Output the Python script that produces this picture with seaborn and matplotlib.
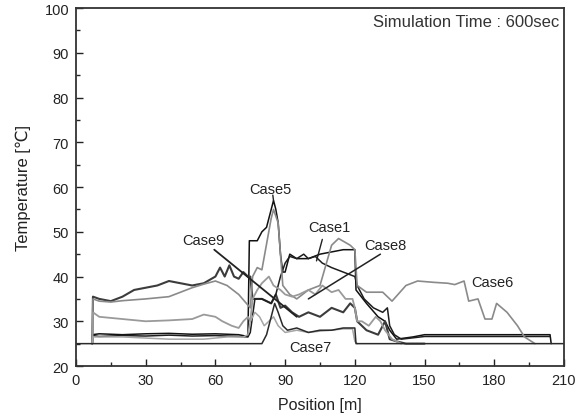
import numpy as np
import pandas as pd
import matplotlib
matplotlib.use("Agg")
import matplotlib.pyplot as plt
import seaborn as sns
from matplotlib.ticker import MultipleLocator

# ---------------- data ----------------
case5_x = [7, 7, 10, 20, 30, 40, 50, 60, 70, 74, 74.6, 78, 80, 82, 84, 85, 86, 87, 88, 89, 90, 92, 95, 100,
           105, 110, 115, 120, 120.5, 125, 130, 133, 135, 138, 145, 150, 160, 180, 200, 204, 204.5]
case5_y = [25, 27, 27.2, 27, 27.2, 27.3, 27.1, 27.2, 27, 26.6, 48, 48, 50, 51, 55, 57, 55, 52, 45, 41, 41,
           45, 44, 44, 45, 45.5, 46, 46, 37, 34, 31, 30, 28, 26, 26.5, 27, 27, 27, 27, 27, 25]

case9_x = [7, 7.3, 10, 15, 20, 25, 30, 35, 40, 45, 50, 55, 60, 62, 64, 66, 68, 70, 72, 74, 75, 76, 80, 84,
           86, 88, 90, 93, 96, 100, 105, 110, 115, 118, 120, 121, 125, 130, 133, 135, 138, 142, 150]
case9_y = [25, 35.5, 35, 34.5, 35.5, 37, 37.5, 38, 39, 38.5, 38, 38.5, 40, 42, 40, 42.5, 40, 39.5, 41, 40,
           40, 35, 35, 34, 36, 33, 33.5, 32, 31, 32, 31, 33, 32, 34, 33, 30, 28, 27, 30, 26, 25.5, 25, 25]

case1_x = [7, 7.3, 10, 20, 30, 40, 50, 60, 70, 74, 75, 77, 80, 84, 86, 88, 90, 92, 95, 98, 100, 103, 106,
           110, 115, 120, 121, 124, 128, 132, 134, 135, 137, 140, 150, 200, 204]
case1_y = [25, 26.8, 26.6, 26.8, 26.7, 26.9, 26.7, 26.8, 26.6, 26.5, 27.5, 35, 35, 34, 36, 40, 43, 44.5,
           44, 45, 44, 44.5, 43, 42, 41, 40, 38, 35, 33, 32, 33, 29, 27, 26, 26.6, 26.6, 26.6]

case6_x = [7, 7.3, 10, 15, 20, 30, 40, 50, 55, 60, 65, 70, 75, 76, 78, 80, 84, 85, 87, 89, 92, 95, 100,
           105, 110, 113, 118, 120, 121, 125, 132, 136, 142, 147, 154, 160, 163, 167, 169, 173, 176, 179,
           181, 185.5, 190, 193, 197.5]
case6_y = [25, 35, 34.5, 34.3, 34.6, 35, 35.5, 37.5, 38.3, 39, 38, 36, 33, 40, 42, 41.5, 53, 55, 52, 38,
           36, 35, 37, 38, 47, 48.5, 47, 46, 38, 36.5, 36.5, 34.5, 38, 39, 38.7, 38.5, 38.2, 39, 34.5, 35,
           30.5, 30.5, 34, 32, 29, 26.5, 25]

case8_x = [7, 7.3, 10, 20, 30, 40, 50, 55, 60, 63, 67, 70, 72, 74, 75, 76, 78, 80, 83, 85, 88, 90, 93, 96,
           100, 103, 106, 110, 113, 116, 119, 120, 121, 123, 126, 129, 131, 133, 136, 140]
case8_y = [25, 32, 31, 30.5, 30, 30.2, 30.5, 31.5, 31, 30, 29, 28.5, 30, 31, 30, 35, 37, 38.5, 40, 38, 37,
           36, 35.5, 36, 37, 36, 38, 36.5, 37, 35, 35, 33, 30, 30, 29, 31, 30, 28, 26, 25]

case7_x = [7, 7.3, 20, 40, 55, 65, 72, 74, 75, 77, 79, 81, 83, 85, 87, 90, 95, 100, 105, 110, 115, 119,
           120, 121]
case7_y = [25, 26.5, 26.5, 26, 26, 26.5, 26.5, 27, 30, 32, 31, 29, 30, 31, 29, 27.5, 28, 27.5, 27.8, 28,
           28.3, 28.3, 25.5, 25]

case3_x = [0, 80, 82, 84, 85.5, 87, 89, 91, 95, 100, 105, 110, 115, 120, 120.5, 210]
case3_y = [25, 25, 27, 31, 34, 32, 29, 28, 28.5, 27.5, 28, 28, 28.5, 28.5, 25, 25]

series_names = ["Case5", "Case9", "Case1", "Case6", "Case8", "Case7", "Case3"]
series_x = [case5_x, case9_x, case1_x, case6_x, case8_x, case7_x, case3_x]
series_y = [case5_y, case9_y, case1_y, case6_y, case8_y, case7_y, case3_y]

x_ticks = [0, 30, 60, 90, 120, 150, 180, 210]
y_ticks = [20, 30, 40, 50, 60, 70, 80, 90, 100]

# ---------------- plotting ----------------
sns.set_style("white")
plt.rcParams["font.family"] = ["Liberation Sans", "DejaVu Sans"]

fig = plt.figure(figsize=(5.81, 4.14), dpi=100)
ax = fig.add_axes([0.1308, 0.1135, 0.8399, 0.8645])

styles = {
    "Case5": ("#111111", 1.1),
    "Case9": ("#3c3c3c", 1.5),
    "Case1": ("#1e1e1e", 1.1),
    "Case6": ("#8a8a8a", 1.2),
    "Case8": ("#9a9a9a", 1.3),
    "Case7": ("#a5a5a5", 1.1),
    "Case3": ("#2a2a2a", 1.1),
}

for name, xs, ys in zip(series_names, series_x, series_y):
    df = pd.DataFrame({"x": xs, "y": ys})
    c, lw = styles[name]
    sns.lineplot(data=df, x="x", y="y", sort=False, estimator=None, ax=ax, color=c, linewidth=lw)

ax.set_xlim(0, 210)
ax.set_ylim(20, 100)
ax.set_xticks(x_ticks)
ax.set_yticks(y_ticks)
ax.xaxis.set_minor_locator(MultipleLocator(15))
ax.yaxis.set_minor_locator(MultipleLocator(5))
ax.tick_params(which="major", direction="in", length=5, width=1, labelsize=10.5, colors="#222222",
               bottom=True, left=True, top=False, right=False, pad=5)
ax.tick_params(which="minor", direction="in", length=3, width=1, bottom=True, left=True)
for s in ax.spines.values():
    s.set_color("#333333")
    s.set_linewidth(1.3)

ax.set_xlabel("Position [m]", fontsize=11.5, color="#222222", labelpad=7)
ax.set_ylabel("Temperature [℃]", fontsize=12, color="#222222", labelpad=10)

# annotations
txt = dict(fontsize=10.5, color="#222222", ha="center", va="center")
ax.text(208, 97, "Simulation Time : 600sec", fontsize=12, color="#333333", ha="right", va="center")
ax.text(83.5, 59.5, "Case5", **txt)
ax.text(109, 51, "Case1", **txt)
ax.text(133, 47, "Case8", **txt)
ax.text(54.7, 48.1, "Case9", **txt)
ax.text(179.4, 38.8, "Case6", **txt)
ax.text(100.7, 24.2, "Case7", **txt)

ax.plot([59.5, 95], [46, 31], color="#222222", lw=1.3)
ax.plot([106, 103.5], [48.3, 43.5], color="#222222", lw=1.0)
ax.plot([131, 100], [45, 35], color="#222222", lw=1.1)
ax.plot([84.7, 85], [58.2, 57], color="#222222", lw=1.0)

fig.savefig("out.png", dpi=100)
